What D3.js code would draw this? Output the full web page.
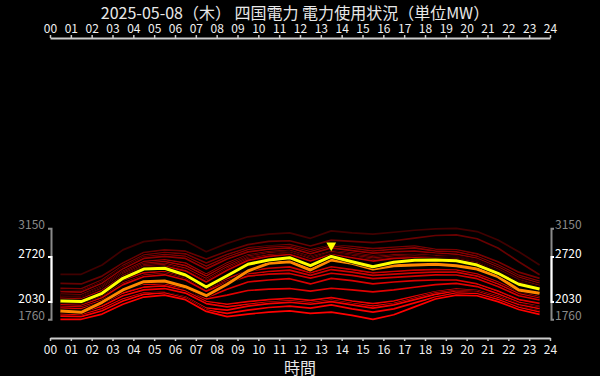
<!DOCTYPE html>
<html>
<head>
<meta charset="utf-8">
<script src="https://cdn.jsdelivr.net/npm/d3@7"></script>
<style>
  body { margin: 0; background: #000; }
  svg { display: block; font-family: "Noto Sans CJK JP", "Noto Sans", sans-serif; }
</style>
</head>
<body>
<svg id="drawing_region"></svg>
<script>
const titleText = '2025-05-08（木） 四国電力 電力使用状況（単位MW）';
const xLabel = '時間';
const hourLabels = ['00','01','02','03','04','05','06','07','08','09','10','11','12',
                    '13','14','15','16','17','18','19','20','21','22','23','24'];

// hourly averages, 00:30 .. 23:30 (oldest day first)
const pastDays = [
  [2447,2447,2590,2820,2946,2980,2960,2793,2920,3020,3060,3080,2997,3110,3080,3060,3090,3120,3140,3150,3100,2970,2793,2590],
  [2310,2300,2420,2620,2780,2820,2800,2680,2800,2900,2950,2960,2880,2970,2950,2930,2960,3000,3040,3050,2990,2850,2640,2440],
  [2233,2225,2360,2580,2740,2780,2760,2620,2750,2850,2880,2900,2820,2890,2870,2840,2860,2880,2830,2820,2760,2640,2480,2386],
  [2200,2190,2330,2550,2710,2750,2720,2570,2710,2820,2860,2870,2790,2880,2840,2800,2830,2850,2800,2790,2720,2590,2430,2340],
  [2182,2175,2310,2530,2690,2720,2690,2530,2680,2790,2830,2850,2760,2850,2810,2770,2790,2800,2770,2753,2690,2560,2400,2310],
  [2141,2135,2270,2490,2640,2670,2620,2450,2620,2740,2790,2810,2720,2800,2770,2730,2750,2760,2740,2720,2660,2530,2370,2280],
  [2120,2110,2250,2470,2610,2640,2580,2420,2590,2720,2770,2790,2700,2790,2750,2710,2740,2750,2730,2710,2650,2520,2360,2270],
  [2106,2100,2230,2450,2590,2610,2540,2380,2560,2700,2750,2780,2680,2770,2730,2690,2720,2730,2710,2700,2640,2500,2340,2250],
  [2090,2085,2210,2430,2570,2590,2510,2350,2530,2680,2740,2760,2660,2760,2710,2670,2700,2720,2700,2690,2630,2490,2330,2240],
  [2080,2070,2200,2420,2550,2570,2500,2330,2510,2660,2720,2750,2650,2750,2700,2650,2690,2700,2690,2680,2620,2480,2320,2230],
  [2055,2045,2160,2360,2470,2490,2410,2240,2380,2500,2540,2560,2470,2563,2520,2470,2490,2510,2520,2513,2450,2330,2180,2105],
  [2010,2000,2110,2310,2430,2460,2380,2210,2340,2450,2490,2510,2430,2520,2480,2430,2450,2470,2480,2480,2420,2300,2150,2080],
  [1980,1970,2090,2290,2410,2440,2360,2190,2320,2420,2450,2460,2390,2463,2430,2380,2400,2420,2440,2437,2380,2260,2120,2055],
  [1953,1945,2050,2220,2300,2290,2240,2090,2220,2330,2360,2380,2300,2386,2350,2300,2330,2350,2360,2360,2300,2190,2060,2004],
  [1930,1920,2020,2180,2240,2230,2180,2070,2130,2200,2220,2230,2190,2234,2210,2180,2210,2250,2290,2310,2260,2150,2020,1953],
  [1900,1890,1990,2160,2250,2270,2190,2030,1990,2030,2060,2080,2050,2090,2040,2000,2040,2110,2180,2220,2200,2110,1990,1940],
  [1870,1860,1960,2120,2210,2230,2160,2000,1950,1990,2020,2040,2010,2050,2000,1960,2000,2080,2160,2200,2180,2090,1980,1920],
  [1836,1826,1920,2070,2160,2170,2100,1930,1900,1960,2000,2020,1990,2030,1980,1930,1980,2060,2140,2182,2160,2060,1950,1887],
  [1810,1800,1890,2040,2140,2160,2080,1900,1850,1900,1940,1960,1930,1980,1920,1870,1920,2010,2100,2160,2150,2060,1940,1870],
  [1760,1760,1840,1990,2100,2130,2060,1880,1800,1840,1870,1890,1850,1870,1820,1760,1830,1950,2070,2130,2120,2030,1910,1836]
];
const yesterday = [1887,1867,2020,2208,2334,2345,2258,2120,2295,2498,2615,2640,2513,2666,2615,2528,2579,2589,2600,2579,2528,2411,2208,2157];
const today = [2040,2030,2157,2386,2528,2539,2437,2253,2426,2600,2666,2701,2579,2720,2640,2563,2631,2661,2666,2655,2589,2463,2295,2223];

const allRange = [1760, 3150];
const todayRange = [2030, 2720];

const W = 600, H = 376;
const svg = d3.select('#drawing_region').attr('width', W).attr('height', H);

const xscale = d3.scaleLinear().domain([0, 24]).range([50, 550]);
const yscale = d3.scaleLinear().domain(allRange).range([319.3, 228.3]);

const lineColor = d3.scalePow().exponent(0.55)
    .domain([0, pastDays.length - 1])
    .range(['#400000', '#ff0000']);

const line = d3.line()
    .x((d, i) => xscale(i + 0.5))
    .y(d => yscale(d));

// title
svg.append('text')
    .attr('x', 295).attr('y', 18.5)
    .attr('text-anchor', 'middle')
    .attr('font-size', 16)
    .attr('fill', '#e8e8e8')
    .text(titleText);

// top & bottom hour axes
const xaxisTop = d3.axisTop(xscale)
    .tickValues(d3.range(25))
    .tickFormat(i => hourLabels[i])
    .tickSize(3).tickSizeOuter(0).tickPadding(2);
const xaxisBottom = d3.axisBottom(xscale)
    .tickValues(d3.range(25))
    .tickFormat(i => hourLabels[i])
    .tickSize(3).tickSizeOuter(0).tickPadding(4);

function styleAxis(g) {
    g.select('.domain').attr('stroke', '#cccccc').attr('stroke-width', 2);
    g.selectAll('.tick line').attr('stroke', '#cccccc').attr('stroke-width', 1.5);
    g.selectAll('.tick text').attr('fill', '#f0f0f0').attr('font-size', 12)
        .attr('font-family', '"Noto Sans CJK JP", "Noto Sans", sans-serif');
}

svg.append('g').attr('transform', 'translate(0,38)').call(xaxisTop).call(styleAxis);
svg.append('g').attr('transform', 'translate(0,338)').call(xaxisBottom).call(styleAxis);

svg.append('text')
    .attr('x', 300).attr('y', 374)
    .attr('text-anchor', 'middle')
    .attr('font-size', 16)
    .attr('fill', '#e8e8e8')
    .text(xLabel);

// range brackets on both sides
const yToday = yscale.copy().domain(todayRange).range(todayRange.map(yscale));

function bracket(axisFn, scale, x, color, padding) {
    const ax = axisFn(scale)
        .tickValues(scale.domain())
        .tickFormat(d3.format('d'))
        .tickSizeInner(0).tickSizeOuter(3).tickPadding(padding);
    const g = svg.append('g').attr('transform', `translate(${x},0)`).call(ax);
    g.select('.domain').attr('stroke', color).attr('stroke-width', 2);
    g.selectAll('.tick text').attr('fill', color).attr('font-size', 12).attr('dy', '0.05em')
        .attr('font-family', '"Noto Sans CJK JP", "Noto Sans", sans-serif');
    return g;
}

bracket(d3.axisLeft, yscale, 51, '#8a8a8a', 6);
bracket(d3.axisLeft, yToday, 51, '#ffffff', 6);
bracket(d3.axisRight, yscale, 551, '#8a8a8a', 4);
bracket(d3.axisRight, yToday, 551, '#ffffff', 4);

// lines
const chart = svg.append('g');

function drawLine(data, color, width) {
    chart.append('path').datum(data)
        .attr('d', line).attr('fill', 'none')
        .attr('stroke', '#000').attr('stroke-width', width + 1.4)
        .attr('stroke-linejoin', 'round');
    chart.append('path').datum(data)
        .attr('d', line).attr('fill', 'none')
        .attr('stroke', color).attr('stroke-width', width)
        .attr('stroke-linejoin', 'round');
}

pastDays.forEach((d, i) => drawLine(d, lineColor(i), 1.7));
drawLine(yesterday, '#ff8800', 3);
drawLine(today, '#ffff00', 3);

// peak marker
const peakIdx = d3.maxIndex(today);
svg.append('path')
    .attr('d', d3.symbol().type(d3.symbolTriangle).size(42)())
    .attr('transform', `translate(${xscale(peakIdx + 0.5)},${yscale(today[peakIdx]) - 11}) rotate(180)`)
    .attr('fill', '#ffff00');
</script>
</body>
</html>
